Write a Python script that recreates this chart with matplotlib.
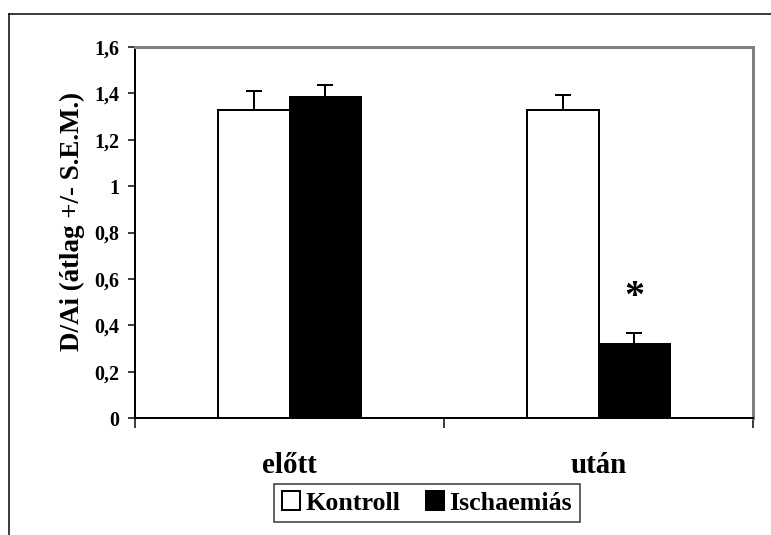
import numpy as np
import matplotlib
matplotlib.use("Agg")
import matplotlib.pyplot as plt
from matplotlib.lines import Line2D
from matplotlib.patches import Patch

plt.rcParams["font.family"] = "Liberation Serif"
plt.rcParams["font.weight"] = "bold"

# Adatok
csoportok = ["előtt", "után"]
sorozatok = ["Kontroll", "Ischaemiás"]
kontroll = [1.33, 1.33]
kontroll_sem = [0.08, 0.065]
ischaemias = [1.385, 0.32]
ischaemias_sem = [0.05, 0.047]
y_ticks = [0, 0.2, 0.4, 0.6, 0.8, 1, 1.2, 1.4, 1.6]
y_tick_labels = ["0", "0,2", "0,4", "0,6", "0,8", "1", "1,2", "1,4", "1,6"]

fig = plt.figure(figsize=(771 / 72, 535 / 72), dpi=72)
ax = fig.add_axes([135 / 771, 1 - 418 / 535, 618 / 771, 371 / 535])

x = np.arange(len(csoportok))
w = 0.233
ax.bar(x - w / 2, kontroll, w, color="white", edgecolor="black", linewidth=2,
       yerr=[np.zeros(2), kontroll_sem], error_kw=dict(ecolor="black", elinewidth=2, capsize=8, capthick=2),
       label=sorozatok[0], zorder=2)
ax.bar(x + w / 2, ischaemias, w, color="black", edgecolor="black", linewidth=2,
       yerr=[np.zeros(2), ischaemias_sem], error_kw=dict(ecolor="black", elinewidth=2, capsize=8, capthick=2),
       label=sorozatok[1], zorder=2)

# szignifikancia jel
ax.text(1 + w / 2, 0.52, "*", ha="center", va="center", fontsize=40, fontweight="bold")

ax.set_xlim(-0.5, 1.5)
ax.set_ylim(0, 1.6)
ax.set_yticks(y_ticks)
ax.set_yticklabels(y_tick_labels, fontsize=20, fontweight="bold")
ax.tick_params(axis="y", direction="out", length=7, width=1.5, pad=9)

# kategória tengely: osztásjelek a kategóriák között
ax.set_xticks([-0.5, 0.5, 1.5])
ax.set_xticklabels([])
ax.tick_params(axis="x", which="major", direction="out", length=10, width=1.5)
ax.set_xticks(x, minor=True)
ax.set_xticklabels(csoportok, minor=True, fontsize=29, fontweight="bold")
ax.tick_params(axis="x", which="minor", length=0, pad=34)

for s in ["left", "bottom"]:
    ax.spines[s].set_color("black")
    ax.spines[s].set_linewidth(2)
for s in ["top", "right"]:
    ax.spines[s].set_color("#808080")
    ax.spines[s].set_linewidth(3)

fig.text(72 / 771, 1 - 221.5 / 535, "D/Ai (átlag +/- S.E.M.)", rotation=90,
         ha="center", va="center", fontsize=27, fontweight="bold")

handles = [Patch(facecolor="white", edgecolor="black", linewidth=2),
           Patch(facecolor="black", edgecolor="black", linewidth=2)]
leg = fig.legend(handles, sorozatok, loc="center", bbox_to_anchor=(427 / 771, 1 - 503 / 535),
                 ncol=2, frameon=True, fancybox=False,
                 handlelength=0.7, handleheight=0.7, handletextpad=0.2, columnspacing=1.0,
                 borderpad=0.3, prop={"weight": "bold", "size": 26})
leg.get_frame().set_edgecolor("black")
leg.get_frame().set_linewidth(1.5)

# külső keret
fig.add_artist(Line2D([9 / 771, 1], [1 - 14 / 535, 1 - 14 / 535], color="black", linewidth=1.5))
fig.add_artist(Line2D([9 / 771, 9 / 771], [0, 1 - 14 / 535], color="black", linewidth=1.5))

fig.savefig("out.png", dpi=72)
